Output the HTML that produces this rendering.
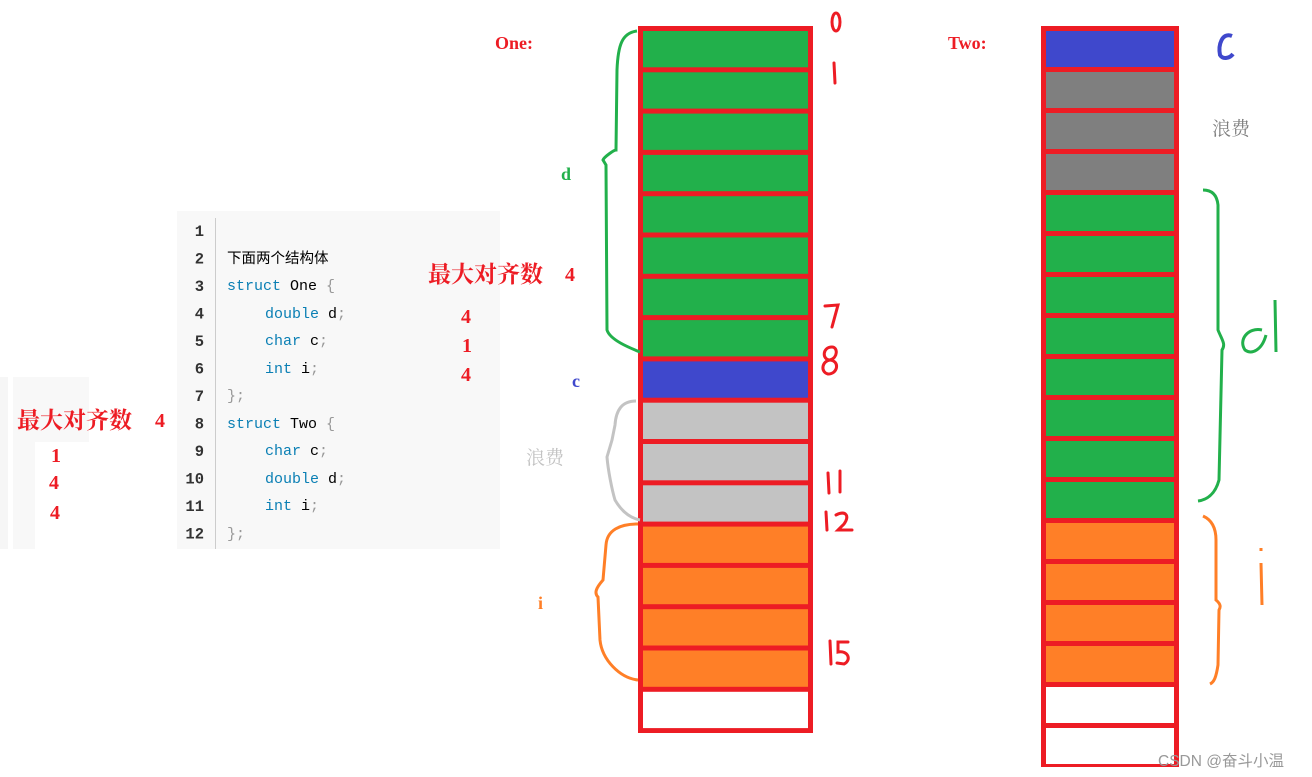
<!DOCTYPE html>
<html><head><meta charset="utf-8"><style>
body{margin:0;width:1312px;height:777px;background:#fff;overflow:hidden;position:relative}
svg{position:absolute;left:0;top:0}
</style></head><body>
<svg width="1312" height="777" viewBox="0 0 1312 777" xmlns="http://www.w3.org/2000/svg">
<rect x="0" y="377" width="8" height="172" fill="#f6f6f6"/>
<rect x="13" y="377" width="76" height="65" fill="#f8f8f8"/>
<rect x="13" y="442" width="22" height="107" fill="#f8f8f8"/>
<rect x="177" y="211" width="323" height="338" fill="#f8f8f8"/>
<line x1="215.5" y1="218" x2="215.5" y2="549" stroke="#ccc" stroke-width="1"/>
<g font-family="Liberation Mono, monospace" font-size="15.5" text-anchor="end" fill="#333" font-weight="bold">
<text x="204" y="236">1</text><text x="204" y="263.5">2</text><text x="204" y="291">3</text><text x="204" y="318.5">4</text><text x="204" y="346">5</text><text x="204" y="373.5">6</text><text x="204" y="401">7</text><text x="204" y="428.5">8</text><text x="204" y="456">9</text><text x="204" y="483.5">10</text><text x="204" y="511">11</text><text x="204" y="538.5">12</text>
</g>
<g font-family="Liberation Mono, 'Noto Sans CJK SC', monospace" font-size="15" fill="#000" xml:space="preserve">
<text x="227" y="263" font-family="'Noto Sans CJK SC', sans-serif" font-size="14.5">下面两个结构体</text>
<text x="227" y="290"><tspan fill="#0a7fb4">struct</tspan> One <tspan fill="#999">{</tspan></text>
<text x="265" y="318"><tspan fill="#0a7fb4">double</tspan> d<tspan fill="#999">;</tspan></text>
<text x="265" y="345"><tspan fill="#0a7fb4">char</tspan> c<tspan fill="#999">;</tspan></text>
<text x="265" y="373"><tspan fill="#0a7fb4">int</tspan> i<tspan fill="#999">;</tspan></text>
<text x="227" y="400" fill="#999">};</text>
<text x="227" y="428"><tspan fill="#0a7fb4">struct</tspan> Two <tspan fill="#999">{</tspan></text>
<text x="265" y="455"><tspan fill="#0a7fb4">char</tspan> c<tspan fill="#999">;</tspan></text>
<text x="265" y="483"><tspan fill="#0a7fb4">double</tspan> d<tspan fill="#999">;</tspan></text>
<text x="265" y="510"><tspan fill="#0a7fb4">int</tspan> i<tspan fill="#999">;</tspan></text>
<text x="227" y="538" fill="#999">};</text>
</g>
<g font-family="Liberation Serif, 'Noto Serif CJK SC', serif" font-size="20" fill="#ed1c24" font-weight="bold">
<text x="428" y="282" font-size="23">最大对齐数</text><text x="565" y="281">4</text>
<text x="461" y="323">4</text><text x="462" y="352">1</text><text x="461" y="381">4</text>
<text x="17" y="428" font-size="23">最大对齐数</text><text x="155" y="427">4</text>
<text x="51" y="462">1</text><text x="49" y="489">4</text><text x="50" y="519">4</text>
<text x="495" y="49" font-size="18">One:</text>
<text x="948" y="49" font-size="18">Two:</text>
</g>
<g font-family="Liberation Serif, serif" font-size="18" font-weight="bold">
<text x="561" y="180" fill="#22b04b">d</text>
<text x="572" y="387" fill="#3f48cc">c</text>
<text x="538" y="609" fill="#ff7f27">i</text>
</g>
<text x="526" y="464" font-family="'Noto Serif CJK SC', serif" font-size="19" fill="#c3c3c3">浪费</text>
<text x="1212" y="135" font-family="'Noto Serif CJK SC', serif" font-size="19" fill="#7f7f7f">浪费</text>

<rect x="638" y="26" width="175" height="707" fill="#ed1c24"/>
<rect x="1041" y="26" width="138" height="741" fill="#ed1c24"/>
<g id="cells"></g>

<path d="M637,31 C622,33 618,45 617,70 L616,150 C614,150 604,157 603,160 L606,165 L607,330 C610,340 630,348 640,352" fill="none" stroke="#22b04b" stroke-width="3"/>
<path d="M636,401 C622,401 616,410 615,425 L612,440 L607,457 C608,470 612,490 615,500 C622,512 630,518 640,520" fill="none" stroke="#c3c3c3" stroke-width="3"/>
<path d="M638,524 C620,524 607,530 606,545 L603,580 C596,588 594,593 598,597 L600,640 C602,660 620,678 638,680" fill="none" stroke="#ff7f27" stroke-width="3"/>
<path d="M1203,190 C1212,190 1217,195 1218,205 L1218,330 C1222,340 1226,344 1222,350 L1219,480 C1215,495 1206,500 1198,501" fill="none" stroke="#22b04b" stroke-width="3"/>
<path d="M1203,516 C1212,520 1216,528 1216,540 L1216,600 C1222,605 1220,608 1219,610 L1218,665 C1216,678 1214,682 1210,684" fill="none" stroke="#ff7f27" stroke-width="3"/>
<path d="M1262,330 C1248,327 1238,340 1245,350 C1252,355 1262,350 1266,335 M1275,300 L1276,352" fill="none" stroke="#22b04b" stroke-width="3"/>
<path d="M1261,563 L1262,605 M1261,548 L1261,551" fill="none" stroke="#ff7f27" stroke-width="3"/>
<path d="M1232,36 C1222,32 1218,45 1220,55 C1223,60 1230,58 1233,54" fill="none" stroke="#3f48cc" stroke-width="4"/>

<g fill="none" stroke="#ed1c24" stroke-width="3" stroke-linecap="round">
<ellipse cx="836" cy="22" rx="4" ry="9"/>
<path d="M834,63 L835,83"/>
<path d="M825,306 L838,305 L832,327"/>
<path d="M832,347 C822,347 822,360 830,360 C840,361 838,374 828,374 C820,372 822,361 830,360 C838,358 838,347 832,347"/>
<path d="M828,473 L829,493 M840,471 L840,492"/>
<path d="M826,512 L827,530 M836,515 C846,510 850,516 844,524 L838,530 L852,530"/>
<path d="M830,641 L831,664 M848,642 L838,642 L838,652 C848,650 852,660 844,664 L837,663"/>
</g>
<text x="1158" y="766" font-family="'Liberation Sans','Noto Sans CJK SC',sans-serif" font-size="15.5" fill="#999">CSDN @奋斗小温</text>
</svg>
<script>
var ns="http://www.w3.org/2000/svg",g=document.getElementById("cells");
function col(x,w,y0,h,cols){for(var i=0;i<cols.length;i++){var r=document.createElementNS(ns,"rect");var top=y0+i*h;r.setAttribute("x",x);r.setAttribute("y",top+5);r.setAttribute("width",w);r.setAttribute("height",h-5);r.setAttribute("fill",cols[i]);g.appendChild(r);}}
var G="#22b04b",B="#3f48cc",L="#c3c3c3",D="#7f7f7f",O="#ff7f27",W="#fff";
col(643,165,26,41.3,[G,G,G,G,G,G,G,G,B,L,L,L,O,O,O,O,W]);
col(1046,128,26,41,[B,D,D,D,G,G,G,G,G,G,G,G,O,O,O,O,W,W]);
</script>
</body></html>
